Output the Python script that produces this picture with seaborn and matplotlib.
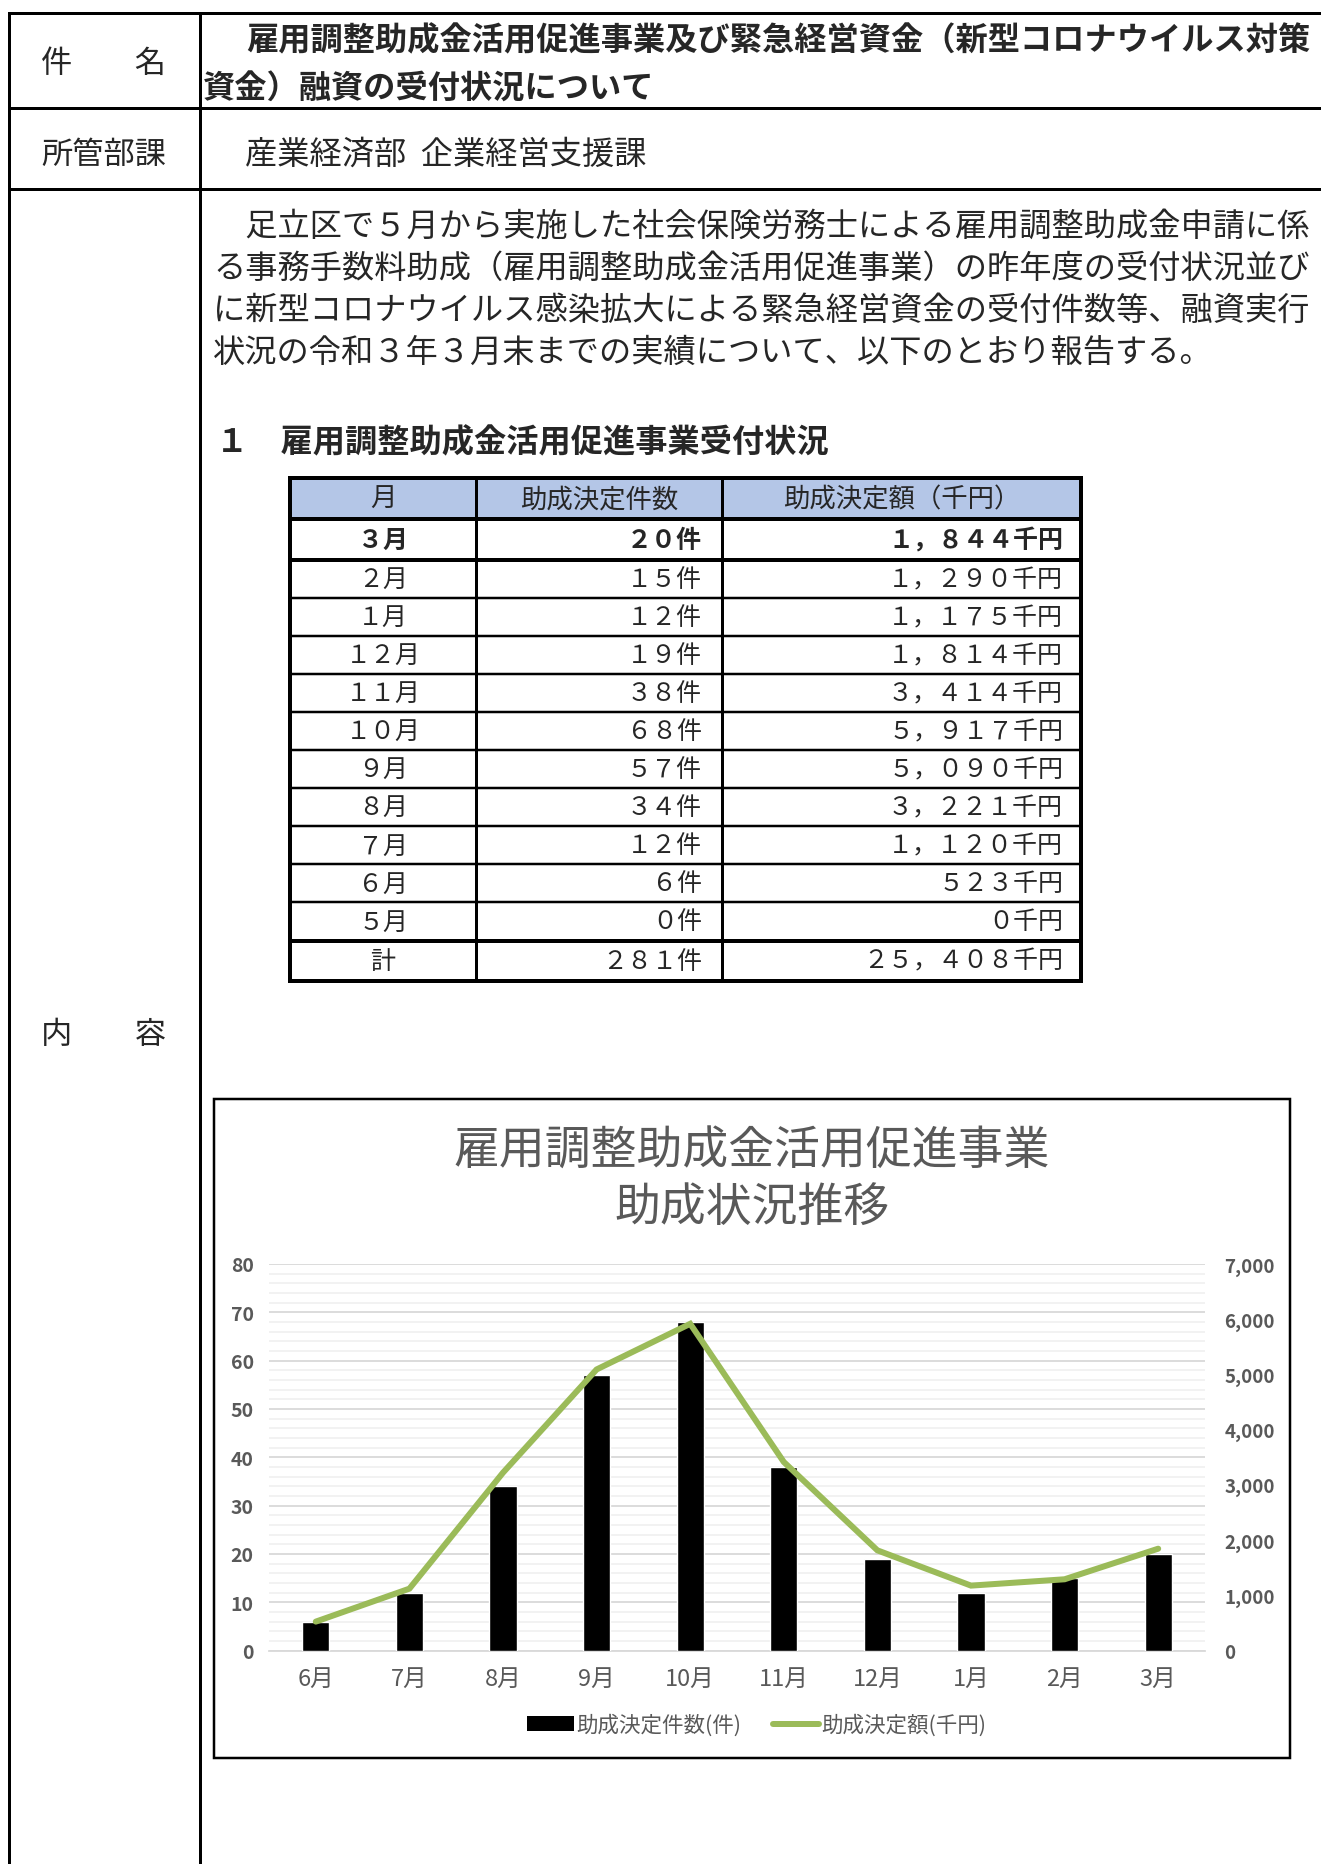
import numpy as np
import pandas as pd
import matplotlib
matplotlib.use("Agg")
import matplotlib.pyplot as plt
from matplotlib.lines import Line2D
from matplotlib.patches import Patch, Rectangle
from matplotlib.ticker import FuncFormatter, MultipleLocator, FixedLocator
import seaborn as sns

# ---- data: fiscal-year order (May -> March) ----
months = ["5月", "6月", "7月", "8月", "9月", "10月", "11月", "12月", "1月", "2月", "3月"]
counts = [0, 6, 12, 34, 57, 68, 38, 19, 12, 15, 20]                       # 件
amounts = [0, 523, 1120, 3221, 5090, 5917, 3414, 1814, 1175, 1290, 1844]  # 千円

table_header = ["月", "助成決定件数", "助成決定額（千円）"]
total_label = "計"

chart_title_lines = ["雇用調整助成金活用促進事業", "助成状況推移"]
count_label = "助成決定件数(件)"
amount_label = "助成決定額(千円)"
left_ticks = [0, 10, 20, 30, 40, 50, 60, 70, 80]
right_ticks = [0, 1000, 2000, 3000, 4000, 5000, 6000, 7000]

doc_date = "令和３年５月２０日"
subject_label = "件　　名"
subject_lines = ["雇用調整助成金活用促進事業及び緊急経営資金（新型コロナウイルス対策",
                 "資金）融資の受付状況について"]
dept_label = "所管部課"
dept_name = "産業経済部  企業経営支援課"
content_label = "内　　容"
body_lines = [
    "　足立区で５月から実施した社会保険労務士による雇用調整助成金申請に係",
    "る事務手数料助成（雇用調整助成金活用促進事業）の昨年度の受付状況並び",
    "に新型コロナウイルス感染拡大による緊急経営資金の受付件数等、融資実行",
    "状況の令和３年３月末までの実績について、以下のとおり報告する。",
]
section_heading = "１　雇用調整助成金活用促進事業受付状況"

# ---- style ----
sns.set_style("white")
plt.rcParams["font.family"] = ["Noto Sans CJK JP", "DejaVu Sans"]

W, H = 1321, 1865
fig = plt.figure(figsize=(W / 100, H / 100), dpi=100)
fig.patch.set_facecolor("white")

# page layer in pixel coordinates (origin top-left)
page = fig.add_axes([0, 0, 1, 1])
page.set_xlim(0, W)
page.set_ylim(H, 0)
page.axis("off")

PT = 0.72  # px -> pt at 100 dpi


def seg(x0, y0, x1, y1, px=3.0, color="black"):
    page.plot([x0, x1], [y0, y1], color=color, lw=px * PT,
              solid_capstyle="projecting")


FW = str.maketrans("0123456789,", "０１２３４５６７８９，")


def fw(s):
    return s.translate(FW)


# ---- document frame ----
seg(9, 14, W, 14)
seg(9, 14, 9, H)
seg(200, 14, 200, H)
seg(9, 109, W, 109)
seg(9, 190, W, 190)

# date line sits at the very top edge of the page
page.text(993, 4, doc_date, fontsize=23, va="bottom", ha="left", color="black")

body_fs = 23.2
page.text(41, 64, subject_label, fontsize=22.5, va="center", ha="left")
page.text(41, 155, dept_label, fontsize=22.5, va="center", ha="left")
page.text(41, 1035, content_label, fontsize=22.5, va="center", ha="left")

page.text(246, 41, subject_lines[0], fontsize=body_fs, weight="bold", va="center", ha="left")
page.text(203, 89, subject_lines[1], fontsize=body_fs, weight="bold", va="center", ha="left")
page.text(245, 155, dept_name, fontsize=body_fs, va="center", ha="left")

for i, line in enumerate(body_lines):
    page.text(213, 227 + 42 * i, line, fontsize=body_fs, va="center", ha="left")

page.text(216, 443, section_heading, fontsize=body_fs, weight="bold", va="center", ha="left")

# ---- summary table ----
col_x = [290, 476, 722, 1081]
t_top, t_head, t_first = 479, 520, 561
t_total, t_bottom = 941.5, 982
n_rest = len(months) - 1
row_h = (t_total - t_first) / n_rest

page.add_patch(Rectangle((col_x[0], t_top), col_x[-1] - col_x[0], t_head - t_top,
                         facecolor="#b4c6e7", edgecolor="none"))

# horizontal rules
seg(col_x[0], t_top, col_x[-1], t_top, 4)
seg(col_x[0], t_head, col_x[-1], t_head, 4)
seg(col_x[0], t_first, col_x[-1], t_first, 4)
for k in range(1, n_rest):
    yk = t_first + k * row_h
    seg(col_x[0], yk, col_x[-1], yk, 2.5)
seg(col_x[0], t_total, col_x[-1], t_total, 4)
seg(col_x[0], t_bottom, col_x[-1], t_bottom, 4)
# vertical rules
for j, xx in enumerate(col_x):
    seg(xx, t_top, xx, t_bottom, 4 if j in (0, 3) else 3)

head_y = (t_top + t_head) / 2
centers = [(col_x[0] + col_x[1]) / 2, (col_x[1] + col_x[2]) / 2, (col_x[2] + col_x[3]) / 2]
for c, label in zip(centers, table_header):
    page.text(c, head_y, label, fontsize=19, va="center", ha="center")

rows = list(zip(months[::-1], counts[::-1], amounts[::-1]))
row_fs = 18
cnt_right, amt_right = 702, 1063
for i, (m, c, a) in enumerate(rows):
    if i == 0:
        yc = (t_head + t_first) / 2
        wt = "bold"
    else:
        yc = t_first + (i - 0.5) * row_h
        wt = "normal"
    page.text(centers[0], yc, fw(m), fontsize=row_fs, weight=wt, va="center", ha="center")
    page.text(cnt_right, yc, fw(f"{c:,}") + "件", fontsize=row_fs, weight=wt, va="center", ha="right")
    page.text(amt_right, yc, fw(f"{a:,}") + "千円", fontsize=row_fs, weight=wt, va="center", ha="right")

tot_y = (t_total + t_bottom) / 2
page.text(centers[0], tot_y, total_label, fontsize=row_fs, va="center", ha="center")
page.text(cnt_right, tot_y, fw(f"{sum(counts):,}") + "件", fontsize=row_fs, va="center", ha="right")
page.text(amt_right, tot_y, fw(f"{sum(amounts):,}") + "千円", fontsize=row_fs, va="center", ha="right")

# ---- chart frame and title ----
page.add_patch(Rectangle((214, 1100), 1290 - 214, 1759 - 1100, facecolor="white",
                         edgecolor="black", lw=2.5 * PT))
grey = "#595959"
page.text(752, 1151, chart_title_lines[0], fontsize=33, color=grey, va="center", ha="center")
page.text(752, 1208, chart_title_lines[1], fontsize=33, color=grey, va="center", ha="center")

# ---- combo chart ----
df = pd.DataFrame({"month": months[1:], "count": counts[1:], "amount": amounts[1:]})

x0, x1, y_top, y_bot = 269, 1205, 1265, 1651.5
ax = fig.add_axes([x0 / W, 1 - y_bot / H, (x1 - x0) / W, (y_bot - y_top) / H])
ax.set_facecolor("none")

sns.barplot(data=df, x="month", y="count", order=df["month"], color="black",
            saturation=1, width=0.29, ax=ax, zorder=3)
ax.set_xlim(-0.5, len(df) - 0.5)
ax.set_ylim(0, 80)
ax.yaxis.set_major_locator(FixedLocator(left_ticks))
ax.yaxis.set_minor_locator(MultipleLocator(2))
ax.set_axisbelow(True)
ax.grid(axis="y", which="minor", color="#efefef", lw=1.6 * PT)
ax.grid(axis="y", which="major", color="#d9d9d9", lw=1.8 * PT)
ax.set_xlabel("")
ax.set_ylabel("")
for side in ("left", "right", "top"):
    ax.spines[side].set_visible(False)
ax.spines["bottom"].set_color("#d9d9d9")
ax.spines["bottom"].set_linewidth(1.8 * PT)
ax.tick_params(axis="y", which="both", length=0, pad=11, labelsize=14,
               labelcolor=grey)
for lab in ax.get_yticklabels():
    lab.set_fontweight("bold")
ax.xaxis.set_minor_locator(FixedLocator(np.arange(-0.5, len(df), 1.0)))
ax.tick_params(axis="x", which="major", length=0, pad=12, labelsize=17, labelcolor=grey)
ax.tick_params(axis="x", which="minor", length=6 * PT, width=1.5 * PT, color="#d9d9d9",
               direction="out")

ax2 = ax.twinx()
sns.lineplot(data=df, x="month", y="amount", sort=False, color="#9bbb59",
             lw=6 * PT, solid_capstyle="round", solid_joinstyle="miter", ax=ax2)
ax2.set_ylim(0, 7000)
ax2.yaxis.set_major_locator(FixedLocator(right_ticks))
ax2.yaxis.set_major_formatter(FuncFormatter(lambda v, p: f"{int(v):,}"))
ax2.set_ylabel("")
ax2.grid(False)
for side in ("left", "right", "top", "bottom"):
    ax2.spines[side].set_visible(False)
ax2.tick_params(axis="y", length=0, pad=14, labelsize=13.5, labelcolor=grey)
for lab in ax2.get_yticklabels():
    lab.set_fontweight("bold")
ax2.set_xlim(-0.5, len(df) - 0.5)

handles = [Patch(facecolor="black", edgecolor="none"),
           Line2D([0], [0], color="#9bbb59", lw=6 * PT)]
fig.legend(handles, [count_label, amount_label], loc="center",
           bbox_to_anchor=(757 / W, 1 - 1726 / H), ncol=2, frameon=False,
           fontsize=15.5, labelcolor=grey, handlelength=2.15, handleheight=0.65,
           handletextpad=0.1, columnspacing=1.5)

fig.savefig("out.png", dpi=100, facecolor="white")
